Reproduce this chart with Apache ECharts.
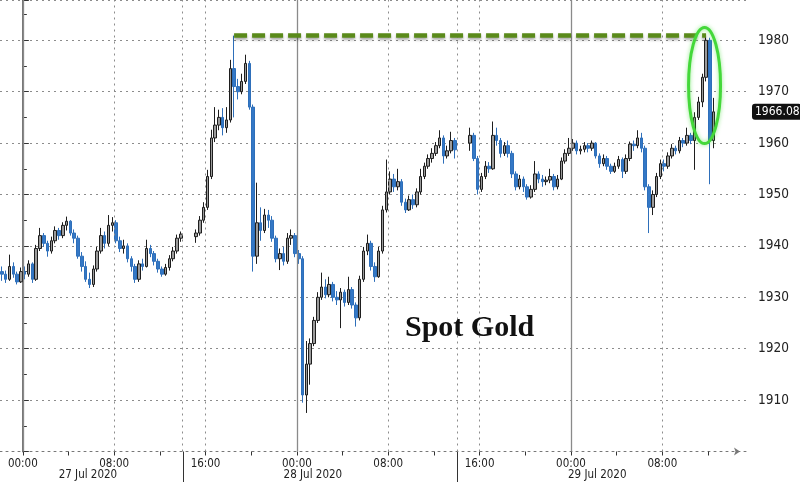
<!DOCTYPE html>
<html><head><meta charset="utf-8">
<script src="https://cdn.jsdelivr.net/npm/echarts@6/dist/echarts.min.js"></script>
<style>html,body{margin:0;padding:0;background:#fff}#c{width:800px;height:482px}</style>
</head><body><div id="c"></div>
<script>
// ---- time structure (hours from 27 Jul 2020 00:00) ----
const sessionStartHours = [-2, 15, 39];
const sessionBarCounts = [48, 69, 65];
const barMinutes = 20;

// ---- OHLC values ----
const opens = [
 1935.0,1934.5,1933.5,1936.0,1934.5,1933.0,1935.0,1934.5,1936.5,1933.5,1939.5,1942.0,1940.5,1939.0,1941.0,1943.0,1942.0,1944.0,1944.8,1942.5,1941.5,1938.0,1936.0,1933.5,1932.5,1935.5,1939.0,1942.0,1940.5,1944.0,1944.5,1941.0,1939.5,1940.0,1937.5,1936.0,1933.5,1936.5,1936.0,1939.5,1938.5,1937.0,1935.5,1934.5,1935.8,1937.5,1939.0,1941.5,
 1941.8,1942.5,1945.0,1947.5,1953.5,1961.0,1963.5,1965.0,1963.0,1964.5,1974.5,1971.0,1970.0,1972.0,1975.5,1967.0,1938.0,1944.5,1943.0,1946.0,1945.0,1941.5,1937.5,1938.5,1937.0,1941.5,1942.0,1938.5,1937.5,1911.0,1917.0,1921.0,1925.5,1930.0,1932.0,1930.5,1932.5,1930.0,1929.5,1931.0,1929.0,1931.5,1928.5,1926.0,1933.5,1939.0,1940.5,1936.0,1934.0,1939.0,1947.0,1950.5,1953.0,1951.5,1952.5,1948.5,1947.0,1949.0,1948.0,1950.5,1953.5,1955.5,1957.0,1958.0,1959.5,1961.0,1957.5,1958.5,1960.5,
 1960.0,1961.5,1957.0,1951.0,1953.5,1955.5,1955.0,1961.5,1960.5,1958.0,1959.5,1958.0,1954.0,1951.5,1953.0,1951.5,1949.5,1951.0,1954.0,1953.0,1952.5,1952.8,1953.5,1951.5,1953.0,1956.5,1958.0,1959.0,1960.0,1958.5,1958.8,1959.5,1959.0,1960.0,1957.5,1956.0,1957.0,1955.5,1954.5,1955.5,1956.8,1954.5,1957.0,1959.8,1959.5,1961.0,1959.0,1951.5,1947.5,1950.0,1953.5,1956.0,1955.5,1957.5,1959.0,1958.5,1960.5,1960.0,1961.5,1960.5,1965.0,1968.0,1972.8,1980.0,1960.5
];
const closes = [
 1934.5,1933.5,1936.0,1934.5,1933.0,1935.0,1934.5,1936.5,1933.5,1939.5,1942.0,1940.5,1939.0,1941.0,1943.0,1942.0,1944.0,1944.8,1942.5,1941.5,1938.0,1936.0,1933.5,1932.5,1935.5,1939.0,1942.0,1940.5,1944.0,1944.5,1941.0,1939.5,1940.0,1937.5,1936.0,1933.5,1936.5,1936.0,1939.5,1938.5,1937.0,1935.5,1934.5,1935.8,1937.5,1939.0,1941.5,1942.3,
 1942.5,1945.0,1947.5,1953.5,1961.0,1963.5,1965.0,1963.0,1964.5,1974.5,1971.0,1970.0,1972.0,1975.5,1967.0,1938.0,1944.5,1943.0,1946.0,1945.0,1941.5,1937.5,1938.5,1937.0,1941.5,1942.0,1938.5,1937.5,1911.0,1917.0,1921.0,1925.5,1930.0,1932.0,1930.5,1932.5,1930.0,1929.5,1931.0,1929.0,1931.5,1928.5,1926.0,1933.5,1939.0,1940.5,1936.0,1934.0,1939.0,1947.0,1950.5,1953.0,1951.5,1952.5,1948.5,1947.0,1949.0,1948.0,1950.5,1953.5,1955.5,1957.0,1958.0,1959.5,1961.0,1957.5,1958.5,1960.5,1958.7,
 1961.5,1957.0,1951.0,1953.5,1955.5,1955.0,1961.5,1960.5,1958.0,1959.5,1958.0,1954.0,1951.5,1953.0,1951.5,1949.5,1951.0,1954.0,1953.0,1952.5,1952.8,1953.5,1951.5,1953.0,1956.5,1958.0,1959.0,1960.0,1958.5,1958.8,1959.5,1959.0,1960.0,1957.5,1956.0,1957.0,1955.5,1954.5,1955.5,1956.8,1954.5,1957.0,1959.8,1959.5,1961.0,1959.0,1951.5,1947.5,1950.0,1953.5,1956.0,1955.5,1957.5,1959.0,1958.5,1960.5,1960.0,1961.5,1960.5,1965.0,1968.0,1972.8,1980.0,1960.5,1966.08
];
const lows = [
 1933.2,1932.8,1933.2,1933.8,1932.5,1932.8,1933.5,1934.0,1932.8,1933.2,1939.0,1939.8,1937.9,1938.5,1940.5,1941.2,1941.5,1943.0,1942.0,1940.5,1937.5,1935.0,1933.0,1931.8,1932.0,1935.0,1938.5,1939.5,1940.0,1942.8,1940.5,1938.8,1938.5,1936.8,1935.0,1932.8,1933.0,1935.2,1935.8,1937.8,1936.2,1934.8,1934.0,1934.2,1935.2,1937.0,1938.5,1940.8,
 1940.6,1942.0,1944.5,1947.0,1953.0,1960.2,1962.5,1961.5,1962.0,1964.0,1965.0,1968.5,1969.5,1971.5,1966.5,1935.0,1936.5,1941.0,1942.5,1943.5,1940.8,1936.8,1935.3,1936.2,1936.5,1940.2,1937.8,1936.5,1909.5,1907.5,1913.0,1920.5,1925.0,1929.5,1929.8,1930.0,1929.2,1928.5,1924.0,1928.2,1928.5,1927.8,1924.3,1925.5,1933.0,1938.2,1935.2,1933.0,1933.8,1938.5,1946.5,1950.0,1950.5,1950.8,1947.8,1946.4,1946.8,1947.2,1947.5,1950.0,1953.0,1955.0,1956.2,1957.5,1959.0,1956.0,1957.0,1958.0,1957.0,
 1958.5,1956.5,1950.0,1950.5,1953.0,1954.2,1954.8,1959.5,1957.2,1957.5,1957.2,1953.2,1950.8,1951.0,1950.5,1949.0,1949.2,1950.5,1952.2,1951.5,1951.8,1952.2,1950.8,1951.0,1952.8,1956.0,1957.5,1958.5,1957.8,1957.8,1958.2,1958.2,1958.5,1957.0,1955.2,1955.5,1954.8,1954.0,1954.2,1955.0,1953.2,1954.0,1956.5,1958.5,1959.0,1958.2,1950.8,1942.5,1946.0,1949.5,1953.0,1954.5,1955.0,1957.0,1957.8,1958.0,1959.2,1959.5,1959.8,1954.8,1964.5,1967.0,1972.0,1952.0,1959.0
];
const highs = [
 1936.0,1935.2,1938.3,1936.8,1935.0,1935.8,1936.0,1937.2,1936.8,1940.2,1943.5,1942.5,1941.0,1941.8,1943.8,1943.5,1944.6,1945.7,1945.0,1943.2,1942.0,1938.8,1937.0,1934.8,1936.2,1939.8,1943.5,1942.8,1946.0,1945.6,1945.0,1941.8,1941.2,1940.5,1938.0,1936.5,1937.2,1937.5,1941.2,1940.2,1939.0,1937.5,1936.0,1936.5,1938.2,1939.8,1942.2,1942.8,
 1943.2,1945.8,1948.5,1954.8,1962.6,1967.0,1966.5,1966.8,1967.0,1976.2,1980.9,1972.5,1973.5,1977.2,1976.0,1967.5,1952.3,1947.5,1947.2,1947.0,1945.8,1942.0,1939.5,1939.8,1942.5,1943.2,1942.5,1939.2,1938.0,1921.5,1922.0,1926.2,1931.0,1934.8,1933.5,1934.0,1933.0,1931.2,1931.8,1931.5,1934.0,1932.0,1929.0,1934.2,1939.8,1942.2,1941.0,1936.8,1939.8,1947.8,1956.8,1954.5,1954.0,1955.0,1953.0,1949.2,1949.8,1950.0,1951.2,1955.0,1956.2,1957.8,1959.0,1960.2,1962.5,1961.5,1959.5,1962.2,1961.0,
 1963.0,1962.0,1957.5,1954.2,1956.5,1956.3,1964.2,1963.0,1961.0,1960.2,1960.5,1958.5,1954.5,1953.8,1953.5,1952.0,1951.8,1956.5,1954.5,1953.8,1953.5,1955.0,1954.0,1953.8,1957.2,1958.8,1961.0,1960.8,1960.5,1959.5,1960.2,1960.0,1960.5,1960.2,1958.0,1957.8,1957.5,1956.0,1956.2,1957.5,1957.2,1957.8,1960.3,1960.5,1962.5,1962.0,1959.5,1952.0,1950.8,1954.2,1956.8,1956.8,1958.2,1959.8,1959.5,1961.2,1961.0,1963.0,1962.0,1966.0,1969.0,1973.5,1980.9,1980.5,1968.8
];
const lastPrice = 1966.08;

// ---- axis labels ----
const timeTickValues = [0, 8, 16, 24, 32, 40, 48, 56];
const timeTickLabels = ['00:00', '08:00', '16:00', '00:00', '08:00', '16:00', '00:00', '08:00'];
const smallTimeTicks = [0, 4, 8, 12, 16, 20, 24, 28, 32, 36, 40, 44, 48, 52, 56, 60];
const dateLabelHours = [5.7, 25.4, 50.3];
const dateLabels = ['27 Jul 2020', '28 Jul 2020', '29 Jul 2020'];
const sessionBreakHours = [14, 38];
const midnightHours = [0, 24, 48];
const dottedHours = [8, 16, 32, 40, 56];
const priceLabels = [1910, 1920, 1930, 1940, 1950, 1960, 1970, 1980];
const ellipseCenter = [59.7, 1971.2];
const ellipseRadius = [1.4, 11.3];
const titleText = 'Spot Gold';

const barTimes = [];
sessionStartHours.forEach((s, k) => {
  for (let i = 0; i < sessionBarCounts[k]; i++) barTimes.push(s + (i + 0.5) * barMinutes / 60);
});
const candleData = barTimes.map((t, i) => [t, opens[i], closes[i], lows[i], highs[i]]);
const peakLevel = Math.max.apply(null, highs);
const peakStart = barTimes[highs.indexOf(peakLevel)];
const peakEnd = barTimes[highs.lastIndexOf(peakLevel)];

const axisFont = "'DejaVu Sans Condensed', 'Liberation Sans Narrow', 'DejaVu Sans', sans-serif";
const gridColor = '#8c8c8c';

const chart = echarts.init(document.getElementById('c'), null, {renderer: 'canvas'});
const vLines = [];
midnightHours.forEach(h => vLines.push({xAxis: h, lineStyle: {color: '#8a8a8a', width: 1.3, type: 'solid'}}));
dottedHours.concat(sessionBreakHours).forEach(h => vLines.push({xAxis: h, lineStyle: {color: gridColor, width: 1, type: [2, 4]}}));

chart.setOption({
  animation: false,
  backgroundColor: '#fff',
  title: {text: titleText, left: 405, top: 313, padding: 0,
    textStyle: {fontFamily: "'Liberation Serif', 'DejaVu Serif', serif", fontWeight: 'bold', fontSize: 30, color: '#111'}},
  grid: {left: 0, right: 50, top: 0, bottom: 30.5, containLabel: false},
  xAxis: {
    type: 'value', min: -2, max: 63.68,
    axisLine: {show: true, lineStyle: {color: '#777', type: [2, 4], width: 1}, symbol: ['none', 'arrow'], symbolSize: [6, 6], symbolOffset: [0, -10]},
    axisTick: {show: true, customValues: smallTimeTicks, length: 4, lineStyle: {color: '#333'}},
    axisLabel: {customValues: timeTickValues, color: '#222', fontSize: 11.5, margin: 7, fontFamily: axisFont,
      formatter: v => { const i = timeTickValues.indexOf(Math.round(v)); return i >= 0 ? timeTickLabels[i] : ''; }},
    splitLine: {show: false}
  },
  yAxis: {
    type: 'value', position: 'right', min: 1900, max: 1987.84, interval: 10,
    axisLine: {show: true, lineStyle: {color: '#777', width: 2}},
    axisTick: {show: true, length: 6, lineStyle: {color: '#333'}},
    minorTick: {show: true, splitNumber: 2, length: 4, lineStyle: {color: '#333'}},
    axisLabel: {color: '#222', fontSize: 13.5, margin: 8, fontFamily: axisFont, showMaxLabel: false,
      formatter: v => priceLabels.indexOf(Math.round(v)) >= 0 && Math.abs(v - Math.round(v)) < 0.01 ? String(Math.round(v)) : ''},
    splitLine: {show: true, lineStyle: {color: gridColor, type: [2, 4], width: 1}}
  },
  series: [
    {type: 'line', data: [], z: 1, silent: true,
     markLine: {silent: true, symbol: ['none', 'none'], label: {show: false}, data: vLines}},
    {type: 'candlestick', data: candleData, encode: {x: 0, y: [1, 2, 3, 4]}, barWidth: 3, z: 2,
     itemStyle: {color: '#9b9b9b', color0: '#3478c6', borderColor: '#1e1e1e', borderColor0: '#2e6fba', borderWidth: 1},
     markLine: {silent: true, symbol: ['none', 'none'], animation: false,
       data: [
         {yAxis: lastPrice, lineStyle: {color: 'rgba(0,0,0,0)', width: 0},
          label: {show: true, position: 'end', distance: 2, opacity: 1, formatter: lastPrice.toFixed(2), color: '#fff', backgroundColor: '#111',
            padding: [2, 2, 2, 3], borderRadius: 3, fontSize: 12, fontFamily: axisFont}}
       ]}},
    {type: 'line', data: [], z: 5, silent: true,
     markLine: {silent: true, symbol: ['none', 'none'], animation: false,
       data: [
         [{coord: [peakStart, peakLevel], lineStyle: {color: '#5a8a1a', width: 4.5, type: [13, 5], shadowBlur: 3, shadowColor: 'rgba(0,0,0,0.35)', shadowOffsetY: 2}, label: {show: false}},
          {coord: [peakEnd, peakLevel]}]
       ]}}
  ]
});

function px(t, p) { return chart.convertToPixel({gridIndex: 0}, [t, p]); }
const baseY = px(0, 1900)[1];
const g = [];
dateLabels.forEach((s, i) => {
  g.push({type: 'text', x: px(dateLabelHours[i], 1900)[0], y: baseY + 24,
    style: {text: s, fill: '#222', font: "11.5px " + axisFont, textAlign: 'center', textVerticalAlign: 'middle'}});
});
sessionBreakHours.forEach(h => {
  const x = Math.round(px(h, 1900)[0]) + 0.5;
  g.push({type: 'line', shape: {x1: x, y1: baseY, x2: x, y2: 482}, style: {stroke: '#333', lineWidth: 1}});
});
const c = px(ellipseCenter[0], ellipseCenter[1]);
const r1 = px(ellipseCenter[0] + ellipseRadius[0], ellipseCenter[1] + ellipseRadius[1]);
g.push({type: 'ellipse', z: 10, shape: {cx: c[0], cy: c[1], rx: Math.abs(r1[0] - c[0]), ry: Math.abs(r1[1] - c[1])},
  style: {fill: 'none', stroke: '#44d83a', lineWidth: 3, shadowBlur: 4, shadowColor: 'rgba(70,220,60,0.6)'}});
chart.setOption({graphic: g});
</script></body></html>
